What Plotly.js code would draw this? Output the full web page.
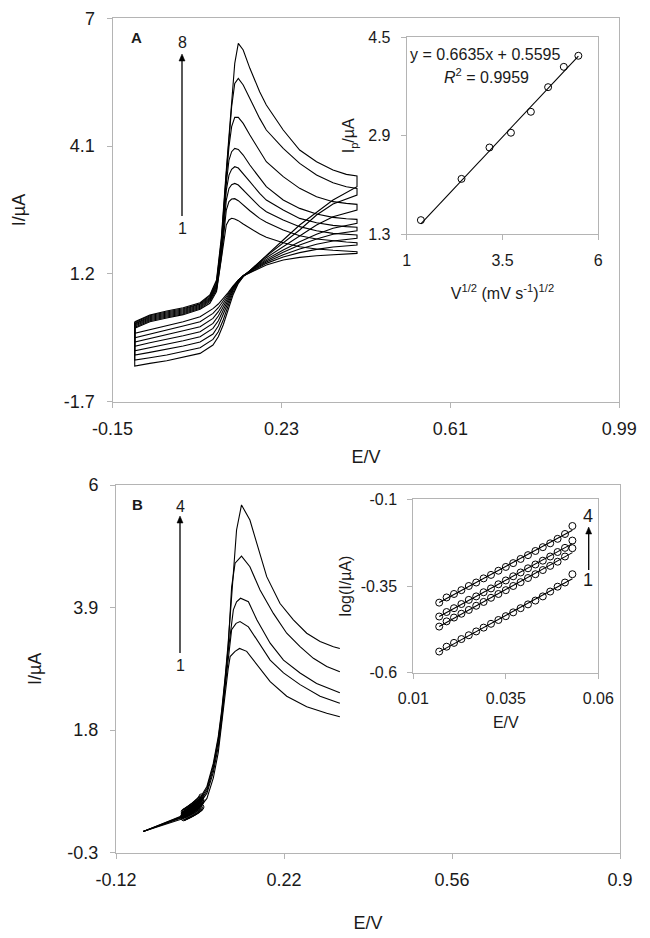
<!DOCTYPE html>
<html><head><meta charset="utf-8">
<script src="https://cdn.plot.ly/plotly-3.0.1.min.js"></script>
<style>html,body{margin:0;padding:0;background:#fff}#chart{width:650px;height:938px}</style>
</head><body><div id="chart"></div>
<script>
// ---------- Panel A: cyclic voltammograms (curves 1..8) ----------
const cvForwardE = [-0.100,-0.066,-0.028,0.009,0.047,0.069,0.084,0.095,0.106,0.112,0.118,0.125,0.133,0.144,0.159,0.181,0.196,0.234,0.271,0.309,0.346,0.376,0.400];
const cvReverseE = [0.400,0.346,0.309,0.271,0.234,0.196,0.159,0.144,0.133,0.121,0.110,0.099,0.088,0.076,0.047,0.009,-0.028,-0.066,-0.100];

const cv1Fwd = [-0.036,0.115,0.199,0.275,0.396,0.532,0.797,1.515,2.310,2.423,2.461,2.446,2.408,2.332,2.234,2.105,2.030,1.909,1.818,1.765,1.735,1.720,1.704];
const cv2Fwd = [-0.013,0.138,0.222,0.297,0.418,0.570,0.834,1.590,2.650,2.839,2.899,2.907,2.861,2.763,2.634,2.460,2.370,2.196,2.067,1.992,1.946,1.924,1.909];
const cv3Fwd = [0.017,0.161,0.244,0.320,0.441,0.600,0.872,1.666,2.876,3.141,3.224,3.254,3.216,3.103,2.952,2.725,2.612,2.423,2.272,2.181,2.120,2.098,2.083];
const cv4Fwd = [0.040,0.184,0.267,0.343,0.464,0.623,0.910,1.742,3.103,3.443,3.572,3.632,3.602,3.481,3.292,3.028,2.876,2.650,2.460,2.362,2.302,2.272,2.257];
const cv5Fwd = [0.062,0.207,0.290,0.365,0.486,0.645,0.947,1.818,3.254,3.784,3.973,4.049,4.026,3.897,3.670,3.368,3.179,2.876,2.687,2.559,2.483,2.453,2.438];
const cv6Fwd = [0.077,0.229,0.312,0.388,0.509,0.668,0.985,1.894,3.406,4.087,4.541,4.752,4.752,4.616,4.352,3.973,3.746,3.406,3.141,2.952,2.839,2.801,2.778];
const cv7Fwd = [0.100,0.252,0.335,0.411,0.524,0.698,1.023,1.969,3.481,4.314,4.994,5.524,5.638,5.486,5.183,4.729,4.465,4.049,3.708,3.443,3.269,3.179,3.141];
const cv8Fwd = [0.115,0.267,0.358,0.433,0.547,0.721,1.061,2.045,3.557,4.314,5.070,5.978,6.432,6.280,5.865,5.335,5.032,4.465,4.011,3.746,3.557,3.458,3.421];

const cv1Rev = [1.666,1.643,1.613,1.575,1.515,1.401,1.235,1.152,1.061,0.925,0.774,0.638,0.517,0.411,0.229,0.115,0.024,-0.066,-0.150];
const cv2Rev = [1.856,1.810,1.757,1.682,1.583,1.439,1.242,1.152,1.061,0.910,0.744,0.585,0.433,0.305,0.115,0.017,-0.074,-0.165,-0.248];
const cv3Rev = [2.007,1.946,1.871,1.765,1.636,1.469,1.250,1.159,1.053,0.895,0.706,0.517,0.343,0.191,0.002,-0.089,-0.172,-0.263,-0.346];
const cv4Rev = [2.181,2.098,1.992,1.856,1.689,1.500,1.258,1.159,1.046,0.872,0.660,0.441,0.244,0.077,-0.112,-0.203,-0.278,-0.361,-0.445];
const cv5Rev = [2.347,2.234,2.098,1.931,1.742,1.530,1.265,1.159,1.038,0.849,0.607,0.365,0.138,-0.036,-0.225,-0.316,-0.392,-0.467,-0.543];
const cv6Rev = [2.650,2.498,2.310,2.060,1.833,1.568,1.265,1.152,1.023,0.819,0.547,0.267,0.017,-0.165,-0.346,-0.437,-0.513,-0.581,-0.641];
const cv7Rev = [2.990,2.786,2.536,2.196,1.909,1.605,1.273,1.137,1.000,0.774,0.471,0.153,-0.112,-0.286,-0.475,-0.566,-0.641,-0.701,-0.754];
const cv8Rev = [3.179,2.876,2.589,2.310,1.969,1.628,1.273,1.137,0.985,0.721,0.381,0.040,-0.225,-0.414,-0.603,-0.694,-0.769,-0.830,-0.890];

// ---------- Panel A inset: Ip vs v^1/2 ----------
const sqrtScanRate = [1.37,2.43,3.16,3.72,4.24,4.69,5.10,5.48];
const peakCurrent  = [1.53,2.20,2.71,2.95,3.29,3.69,4.02,4.20];
const fitSlopeA = 0.6635;
const fitInterceptA = 0.5595;

// ---------- Panel B: linear sweep curves ----------
const lsvFootE = [-0.065,-0.031,0.010,0.030,0.050,0.064,0.077,0.087,0.094,0.101,0.107];
const lsv1Foot = [0.064,0.160,0.270,0.380,0.480,0.630,0.980,1.420,1.880,2.420,2.850];
const lsv2Foot = [0.064,0.165,0.290,0.420,0.550,0.720,1.080,1.520,1.980,2.550,3.000];
const lsv3Foot = [0.064,0.170,0.300,0.450,0.580,0.760,1.140,1.600,2.050,2.620,3.150];
const lsv4Foot = [0.064,0.175,0.310,0.470,0.610,0.800,1.190,1.650,2.100,2.680,3.220];
const lsv5Foot = [0.064,0.178,0.321,0.492,0.635,0.834,1.234,1.691,2.147,2.718,3.289];
const lsv1PeakE = [0.111,0.121,0.130,0.1445,0.165,0.192,0.2255,0.266,0.3065,0.333];
const lsv1Peak  = [3.06,3.15,3.20,3.15,2.92,2.63,2.38,2.20,2.09,2.03];
const lsv2PeakE = [0.114,0.123,0.131,0.148,0.165,0.192,0.219,0.2525,0.293,0.333];
const lsv2Peak  = [3.52,3.63,3.66,3.57,3.35,3.00,2.78,2.58,2.38,2.26];
const lsv3PeakE = [0.1175,0.124,0.132,0.148,0.165,0.192,0.219,0.2525,0.286,0.333];
const lsv3Peak  = [3.86,4.00,4.06,4.00,3.69,3.29,3.00,2.78,2.60,2.44];
const lsv4PeakE = [0.114,0.121,0.134,0.151,0.1715,0.1985,0.2255,0.2525,0.2795,0.3065,0.333];
const lsv4Peak  = [4.25,4.66,4.78,4.60,4.20,3.80,3.46,3.23,3.03,2.89,2.80];
const lsv5PeakE = [0.118,0.124,0.134,0.151,0.165,0.185,0.212,0.239,0.266,0.293,0.320,0.333];
const lsv5Peak  = [4.545,5.229,5.658,5.40,5.00,4.43,3.97,3.69,3.46,3.32,3.23,3.20];

// ---------- Panel B inset: log(I) vs E ----------
const tafelE = [0.017,0.019,0.021,0.023,0.025,0.027,0.029,0.031,0.033,0.035,0.037,0.039,0.041,0.043,0.045,0.047,0.049,0.051,0.053];
const tafel1 = [-0.539,-0.525,-0.514,-0.503,-0.492,-0.481,-0.470,-0.459,-0.448,-0.437,-0.426,-0.414,-0.403,-0.392,-0.380,-0.366,-0.352,-0.340,-0.316];
const tafel2 = [-0.467,-0.452,-0.441,-0.430,-0.419,-0.407,-0.396,-0.384,-0.373,-0.362,-0.350,-0.339,-0.327,-0.316,-0.304,-0.292,-0.280,-0.265,-0.241];
const tafel3 = [-0.438,-0.425,-0.414,-0.402,-0.390,-0.380,-0.368,-0.357,-0.345,-0.334,-0.322,-0.311,-0.299,-0.288,-0.277,-0.265,-0.252,-0.240,-0.219];
const tafel4 = [-0.398,-0.383,-0.373,-0.362,-0.350,-0.340,-0.328,-0.318,-0.306,-0.295,-0.284,-0.272,-0.261,-0.249,-0.238,-0.227,-0.214,-0.200,-0.177];

// ---------- tick labels ----------
const tickA_x = [-0.15,0.23,0.61,0.99], tickA_xt = ['-0.15','0.23','0.61','0.99'];
const tickA_y = [-1.7,1.2,4.1,7], tickA_yt = ['-1.7','1.2','4.1','7'];
const tickAi_x = [1,3.5,6], tickAi_xt = ['1','3.5','6'];
const tickAi_y = [1.3,2.9,4.5], tickAi_yt = ['1.3','2.9','4.5'];
const tickB_x = [-0.12,0.22,0.56,0.9], tickB_xt = ['-0.12','0.22','0.56','0.9'];
const tickB_y = [-0.3,1.8,3.9,6], tickB_yt = ['-0.3','1.8','3.9','6'];
const tickBi_x = [0.01,0.035,0.06], tickBi_xt = ['0.01','0.035','0.06'];
const tickBi_y = [-0.6,-0.35,-0.1], tickBi_yt = ['-0.6','-0.35','-0.1'];

// ================= build =================
const FONT = 'Liberation Sans, Arial, sans-serif';
const W = 650, H = 938;
const LINE = {color:'#000', width:1.1};
const traces = [];

[[cv1Fwd,cv1Rev],[cv2Fwd,cv2Rev],[cv3Fwd,cv3Rev],[cv4Fwd,cv4Rev],
 [cv5Fwd,cv5Rev],[cv6Fwd,cv6Rev],[cv7Fwd,cv7Rev],[cv8Fwd,cv8Rev]].forEach(([f,r]) => {
  traces.push({x: cvForwardE.concat(cvReverseE,[cvForwardE[0]]), y: f.concat(r,[f[0]]),
    mode:'lines', line:LINE, xaxis:'x', yaxis:'y', hoverinfo:'skip'});
});

traces.push({x:sqrtScanRate, y:peakCurrent, mode:'markers', xaxis:'x2', yaxis:'y2',
  marker:{symbol:'circle-open', size:7, color:'#000', line:{width:1}}});
const xa = [Math.min(...sqrtScanRate), Math.max(...sqrtScanRate)];
traces.push({x:xa, y:xa.map(v=>fitSlopeA*v+fitInterceptA), mode:'lines', line:LINE, xaxis:'x2', yaxis:'y2'});

[[lsv1Foot,lsv1PeakE,lsv1Peak],[lsv2Foot,lsv2PeakE,lsv2Peak],[lsv3Foot,lsv3PeakE,lsv3Peak],
 [lsv4Foot,lsv4PeakE,lsv4Peak],[lsv5Foot,lsv5PeakE,lsv5Peak]].forEach(([f,pe,p]) => {
  traces.push({x: lsvFootE.concat(pe), y: f.concat(p), mode:'lines', line:LINE, xaxis:'x3', yaxis:'y3'});
});

function linfit(xs, ys){
  const n=xs.length; let sx=0,sy=0,sxx=0,sxy=0;
  for(let i=0;i<n;i++){sx+=xs[i];sy+=ys[i];sxx+=xs[i]*xs[i];sxy+=xs[i]*ys[i];}
  const m=(n*sxy-sx*sy)/(n*sxx-sx*sx); return [m,(sy-m*sx)/n];
}
[tafel1,tafel2,tafel3,tafel4].forEach(s => {
  traces.push({x:tafelE, y:s.map(v=>Math.pow(10,v)), mode:'markers', xaxis:'x3', yaxis:'y3',
    marker:{symbol:'circle-open', size:5, color:'#000', line:{width:1}}});
  traces.push({x:tafelE, y:s, mode:'markers', xaxis:'x4', yaxis:'y4',
    marker:{symbol:'circle-open', size:7, color:'#000', line:{width:1}}});
  const [m,b] = linfit(tafelE, s);
  const ex = [tafelE[0], tafelE[tafelE.length-1]];
  traces.push({x:ex, y:ex.map(v=>m*v+b), mode:'lines', line:LINE, xaxis:'x4', yaxis:'y4'});
});

function ax(domain, range, vals, text, anchor, size, standoff, title, tsize, tstand){
  return {domain, range, tickvals:vals, ticktext:text, anchor, showline:true, mirror:true,
    linecolor:'#b4b4b4', linewidth:1, ticks:'outside', ticklen:5, tickcolor:'#b4b4b4',
    showgrid:false, zeroline:false, fixedrange:true, ticklabelstandoff:standoff,
    tickfont:{family:FONT, size, color:'#1a1a1a'},
    title:{text:title, font:{family:FONT, size:tsize, color:'#1a1a1a'}, standoff:tstand}};
}
const dx = (a,b)=>[a/W, b/W];
const dy = (top,bot)=>[1-bot/H, 1-top/H];

const layout = {
  width:W, height:H, margin:{l:0,r:0,t:0,b:0}, showlegend:false,
  paper_bgcolor:'#fff', plot_bgcolor:'#fff', font:{family:FONT, color:'#1a1a1a'},
  xaxis:  ax(dx(112.5,619.3), [-0.15,0.99], tickA_x, tickA_xt, 'y', 18, 6, 'E/V', 18, 12),
  yaxis:  ax(dy(18.3,401.7), [-1.7,7], tickA_y, tickA_yt, 'x', 18, 8, 'I/µA', 18, 33),
  xaxis2: ax(dx(406.7,598.3), [1,6], tickAi_x, tickAi_xt, 'y2', 16, 6, 'V<sup>1/2</sup> (mV s<sup>-1</sup>)<sup>1/2</sup>', 16, 20),
  yaxis2: ax(dy(37.3,234.3), [1.3,4.5], tickAi_y, tickAi_yt, 'x2', 16, 7, 'I<sub>p</sub>/µA', 16, 9),
  xaxis3: ax(dx(116,620), [-0.12,0.9], tickB_x, tickB_xt, 'y3', 18, 6, 'E/V', 18, 27),
  yaxis3: ax(dy(485,852.7), [-0.3,6], tickB_y, tickB_yt, 'x3', 18, 8, 'I/µA', 18, 21),
  xaxis4: ax(dx(413.3,598.3), [0.01,0.06], tickBi_x, tickBi_xt, 'y4', 16, 6, 'E/V', 16, 10),
  yaxis4: ax(dy(499.3,672.7), [-0.6,-0.1], tickBi_y, tickBi_yt, 'x4', 16, 7, 'log(I/µA)', 16, 5),
  annotations: [], shapes: []
};
function note(text, px, py, size, extra){
  layout.annotations.push(Object.assign({text, x:px/W, y:1-py/H, xref:'paper', yref:'paper',
    showarrow:false, xanchor:'center', yanchor:'middle', font:{family:FONT, size, color:'#1a1a1a'}}, extra||{}));
}
note('<b>A</b>', 136, 37, 15);
note('<b>B</b>', 137, 505, 15);
note('8', 182, 43, 16);
note('1', 182, 228, 16);
note('4', 180, 506, 16);
note('1', 180, 665, 16);
note('y = 0.6635x + 0.5595', 485, 55, 16);
note('<i>R</i><sup>2</sup> = 0.9959', 486, 76, 16);
note('4', 588, 516, 18);
note('1', 588, 580, 18);
function arrow(px, top, bottom){
  const X = v=>v/W, Y = v=>1-v/H;
  layout.shapes.push({type:'line', xref:'paper', yref:'paper', x0:X(px), x1:X(px), y0:Y(bottom), y1:Y(top+5),
    line:{color:'#000', width:1.3}});
  layout.shapes.push({type:'path', xref:'paper', yref:'paper',
    path:`M ${X(px)} ${Y(top)} L ${X(px-3)} ${Y(top+7)} L ${X(px+3)} ${Y(top+7)} Z`,
    fillcolor:'#000', line:{color:'#000', width:0.5}});
}
arrow(182, 54, 216);
arrow(180, 516, 653);
arrow(588.7, 527, 570);

Plotly.newPlot('chart', traces, layout, {staticPlot:true, displayModeBar:false}).then(() => {
  const t = document.getElementById('js-plotly-tester');
  if (t) t.remove();
  // drop empty placeholder text nodes that Plotly leaves behind
  document.querySelectorAll('#chart svg text').forEach(el => {
    if (!el.textContent.trim()) el.remove();
  });
});
</script>
</body></html>
